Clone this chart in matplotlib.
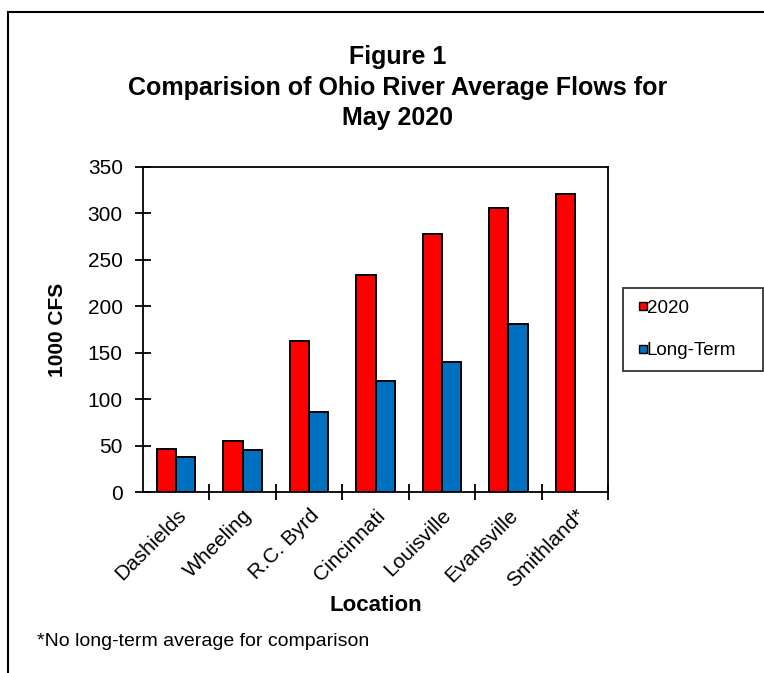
import matplotlib
matplotlib.use("Agg")
import matplotlib.pyplot as plt
import numpy as np
from matplotlib.lines import Line2D

plt.rcParams['font.family'] = ['Liberation Sans', 'DejaVu Sans']

# values (1000 CFS)
locations = ["Dashields", "Wheeling", "R.C. Byrd", "Cincinnati",
             "Louisville", "Evansville", "Smithland*"]
flow_2020 = [46, 55, 163, 234, 278, 306, 321]
long_term = [38, 45, 86, 120, 140, 181, np.nan]
y_ticks = [0, 50, 100, 150, 200, 250, 300, 350]
title_lines = ["Figure 1", "Comparision of Ohio River Average Flows for", "May 2020"]

RED = "#ff0000"
BLUE = "#0070c0"
W, H = 764, 673

fig = plt.figure(figsize=(W / 100, H / 100), dpi=100)
ax = fig.add_axes([143 / W, 1 - 492 / H, 465 / W, 325 / H])

x = np.arange(len(locations))
w = 0.29
ax.bar(x - w / 2, flow_2020, w, color=RED, edgecolor="black", linewidth=1.4, label="2020")
ax.bar(x + w / 2, long_term, w, color=BLUE, edgecolor="black", linewidth=1.4, label="Long-Term")

ax.set_xlim(-0.5, len(locations) - 0.5)
ax.set_ylim(0, 350)
ax.set_yticks(y_ticks)
ax.tick_params(axis="y", direction="inout", length=11, width=1.3, labelsize=15, pad=9)

# tick marks between groups, labels at group centres
ax.set_xticks(np.arange(len(locations)) + 0.5)
ax.set_xticklabels([])
ax.tick_params(axis="x", which="major", direction="inout", length=12, width=1.3)
ax.set_xticks(x, minor=True)
ax.set_xticklabels(locations, minor=True, rotation=45, ha="right",
                   rotation_mode="anchor", fontsize=15)
ax.tick_params(axis="x", which="minor", length=0, pad=10)

for s in ax.spines.values():
    s.set_linewidth(1.3)

ax.set_ylabel("1000 CFS", fontsize=15, fontweight="bold", labelpad=15)
ax.set_xlabel("Location", fontsize=16, fontweight="bold", labelpad=3)

# three title lines, baselines
for line, base in zip(title_lines, [64, 95, 125]):
    fig.text(398 / W, 1 - base / H, line, ha="center", va="baseline",
             fontsize=18, fontweight="bold")

fig.text(37 / W, 1 - 642 / H, "*No long-term average for comparison",
         ha="left", va="center", fontsize=14)

handles = [
    Line2D([], [], marker="s", linestyle="none", markerfacecolor=RED,
           markeredgecolor="black", markersize=5.5, label="2020"),
    Line2D([], [], marker="s", linestyle="none", markerfacecolor=BLUE,
           markeredgecolor="black", markersize=5.5, label="Long-Term"),
]
leg = fig.legend(handles=handles, loc="upper left", mode="expand",
                 bbox_to_anchor=(623 / W, 1 - 367 / H, 140 / W, 79 / H),
                 frameon=True, fancybox=False, edgecolor="black",
                 fontsize=13.5, handlelength=0.9, handletextpad=-0.25,
                 labelspacing=1.35, borderpad=0.62, borderaxespad=0)
leg.get_frame().set_linewidth(1.3)

# outer chart border
fig.add_artist(Line2D([8 / W, 8 / W], [0, 1 - 12 / H], color="black", lw=1.5,
                      transform=fig.transFigure))
fig.add_artist(Line2D([8 / W, 1], [1 - 12 / H, 1 - 12 / H], color="black", lw=1.5,
                      transform=fig.transFigure))

fig.savefig("out.png", dpi=100)
